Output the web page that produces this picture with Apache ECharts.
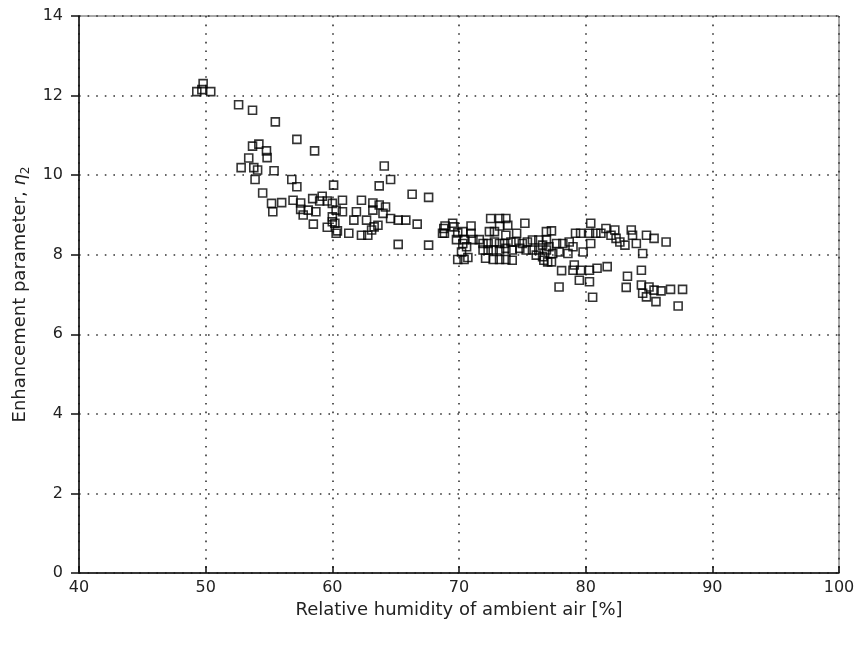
<!DOCTYPE html>
<html>
<head>
<meta charset="utf-8">
<script src="https://cdn.jsdelivr.net/npm/echarts@6/dist/echarts.min.js"></script>
<style>
  html, body { margin: 0; padding: 0; background: #fff; }
  #chart { width: 864px; height: 648px; }
</style>
</head>
<body>
<div id="chart"></div>
<script>
// relative humidity [%] and enhancement parameter eta2
var humidity = [
  49.3, 49.8, 49.7, 50.4, 52.6, 53.7, 55.5, 57.2, 58.6, 53.7, 54.2, 54.8, 54.85, 53.4, 52.8, 53.8, 54.1, 55.4, 53.9, 56.8, 57.2, 60.1,
  54.5, 55.2, 56.0, 55.3, 56.9, 57.5, 57.5, 58.45, 59.2, 59.0, 58.1, 58.7, 57.7, 58.5, 59.6, 60.0, 60.0, 60.2, 59.6, 60.3,
  64.1, 64.6, 63.7, 66.3, 67.6, 60.8, 62.3, 63.2, 63.7, 64.2, 61.9, 63.2, 60.3, 60.8, 61.7, 62.7, 64.0, 64.6, 65.2, 65.8, 66.7,
  60.0, 60.4, 61.3, 62.3, 62.8, 63.1, 63.3, 63.6, 68.8, 68.7, 65.2, 67.6,
  68.9, 69.5, 69.6, 70.95, 68.85, 69.9, 70.3, 70.95, 70.4, 69.8, 70.3, 70.6, 70.2, 69.9, 70.4, 70.7,
  72.5, 73.2, 73.7, 73.85, 73.2, 75.2, 74.55, 73.7, 72.4, 72.8, 71.6, 71.1, 71.9, 72.3, 72.8, 73.2, 73.6, 74.1, 74.5, 75.0,
  75.4, 75.8, 76.3, 76.9, 71.9, 72.3, 72.7, 73.2, 73.7, 74.2, 74.8, 75.3, 75.8, 76.3, 72.1, 72.7, 73.2, 73.7, 74.2,
  76.9, 76.6, 76.1, 76.9, 77.0,
  77.3, 76.6, 77.1, 77.7, 78.2, 78.7, 79.2, 79.6, 80.3, 80.8, 81.2, 81.6, 82.3, 82.0, 82.4, 82.7, 83.1, 83.6, 83.7, 84.0,
  84.8, 85.4, 86.35, 80.4, 80.4, 79.8, 79.0, 78.6, 77.9, 77.4, 76.7, 77.3, 79.1, 79.0, 79.6, 80.3, 80.9, 81.7, 78.1,
  84.5, 84.4, 83.3, 77.9, 79.5, 80.3, 83.2, 84.4, 85.0, 84.5, 84.8, 85.4, 85.95, 86.7, 87.65, 80.55, 85.55, 87.3
];
var enhancement = [
  12.1, 12.3, 12.15, 12.1, 11.77, 11.63, 11.34, 10.9, 10.61, 10.73, 10.78, 10.61, 10.44, 10.43, 10.19, 10.19, 10.13, 10.11, 9.89, 9.89, 9.71, 9.75,
  9.55, 9.29, 9.31, 9.08, 9.37, 9.30, 9.14, 9.41, 9.47, 9.35, 9.12, 9.08, 9.0, 8.77, 9.35, 9.29, 8.95, 8.79, 8.69, 8.54,
  10.23, 9.89, 9.73, 9.52, 9.44, 9.37, 9.37, 9.30, 9.25, 9.20, 9.08, 9.12, 9.12, 9.08, 8.87, 8.87, 9.04, 8.91, 8.87, 8.87, 8.77,
  8.83, 8.60, 8.54, 8.49, 8.49, 8.62, 8.70, 8.74, 8.66, 8.54, 8.26, 8.24,
  8.72, 8.79, 8.70, 8.72, 8.54, 8.55, 8.58, 8.54, 8.38, 8.38, 8.28, 8.20, 8.07, 7.88, 7.88, 7.93,
  8.91, 8.91, 8.91, 8.74, 8.72, 8.79, 8.54, 8.49, 8.58, 8.58, 8.38, 8.38, 8.28, 8.28, 8.32, 8.28, 8.28, 8.32, 8.32, 8.28,
  8.32, 8.37, 8.37, 8.37, 8.12, 8.12, 8.12, 8.12, 8.16, 8.12, 8.16, 8.12, 8.12, 8.12, 7.91, 7.88, 7.88, 7.88, 7.86,
  8.58, 7.95, 7.99, 8.12, 7.82,
  8.60, 8.24, 8.20, 8.28, 8.28, 8.32, 8.54, 8.54, 8.54, 8.54, 8.54, 8.66, 8.62, 8.49, 8.41, 8.32, 8.24, 8.62, 8.49, 8.28,
  8.49, 8.41, 8.32, 8.79, 8.28, 8.07, 8.20, 8.03, 8.07, 8.03, 7.86, 7.82, 7.74, 7.61, 7.61, 7.61, 7.66, 7.70, 7.60,
  8.03, 7.61, 7.46, 7.19, 7.36, 7.32, 7.18, 7.24, 7.19, 7.03, 6.94, 7.11, 7.09, 7.13, 7.13, 6.93, 6.82, 6.71
];

var points = humidity.map(function (h, i) { return [h, enhancement[i]] })

var labelFont = 'DejaVu Sans'
// dotted grid like the printed figure
var dotted = { color: '#333', width: 1.6, type: [1.6, 7] }

var chart = echarts.init(document.getElementById('chart'))
chart.setOption({
  backgroundColor: '#fff',
  animation: false,
  grid: {
    left: 79,
    right: 25,
    top: 16,
    bottom: 75,
    show: true,
    borderColor: '#555',
    borderWidth: 1
  },
  xAxis: {
    type: 'value',
    min: 40,
    max: 100,
    interval: 10,
    name: 'Relative humidity of ambient air [%]',
    nameLocation: 'middle',
    nameGap: 26,
    nameTextStyle: { fontFamily: labelFont, fontSize: 18, color: '#222' },
    axisLine: { lineStyle: { color: '#111', width: 1.5 } },
    axisTick: { inside: true, length: 7, lineStyle: { color: '#111', width: 1.5 } },
    axisLabel: { margin: 7, fontFamily: labelFont, fontSize: 16, color: '#222' },
    splitLine: { show: true, lineStyle: dotted }
  },
  yAxis: {
    type: 'value',
    min: 0,
    max: 14,
    interval: 2,
    name: 'Enhancement parameter, {i|η}{s|2}',
    nameLocation: 'middle',
    nameGap: 46,
    nameTextStyle: {
      fontFamily: labelFont,
      fontSize: 18,
      color: '#222',
      rich: {
        i: { fontFamily: labelFont, fontSize: 18, fontStyle: 'italic', color: '#222' },
        s: { fontFamily: labelFont, fontSize: 12, color: '#222', padding: [10, 0, 0, 0] }
      }
    },
    axisLine: { show: true, lineStyle: { color: '#111', width: 1.5 } },
    axisTick: { show: true, inside: false, length: 8, lineStyle: { color: '#111', width: 1.5 } },
    axisLabel: { margin: 16, fontFamily: labelFont, fontSize: 16, color: '#222' },
    splitLine: { show: true, lineStyle: dotted }
  },
  series: [
    {
      type: 'scatter',
      symbol: 'rect',
      symbolSize: 8,
      itemStyle: { color: 'rgba(255,255,255,0)', borderColor: '#000', borderWidth: 1.6 },
      data: points
    }
  ]
})
</script>
</body>
</html>
